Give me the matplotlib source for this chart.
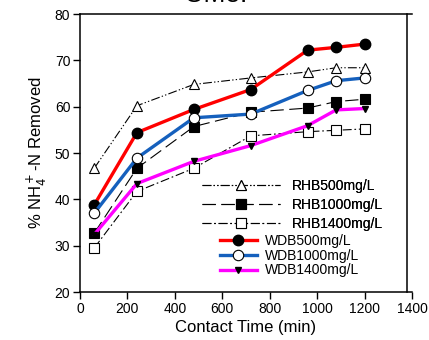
import matplotlib
matplotlib.use("Agg")
import matplotlib.pyplot as plt
from matplotlib.lines import Line2D

plt.rcParams['font.family'] = ['Liberation Sans', 'DejaVu Sans']

time_min = [60, 240, 480, 720, 960, 1080, 1200]

rhb500 = [46.7, 60.2, 64.8, 66.2, 67.5, 68.4, 68.4]
rhb1000 = [32.7, 46.7, 55.7, 58.8, 59.7, 61.1, 61.6]
rhb1400 = [29.5, 41.7, 46.7, 53.7, 54.6, 54.9, 55.2]
wdb500 = [38.8, 54.4, 59.4, 63.7, 72.2, 72.8, 73.5]
wdb1000 = [37.0, 48.9, 57.6, 58.4, 63.5, 65.6, 66.2]
wdb1400 = [32.4, 43.4, 48.2, 51.6, 55.9, 59.3, 59.6]

x_ticks = [0, 200, 400, 600, 800, 1000, 1200, 1400]
y_ticks = [20, 30, 40, 50, 60, 70, 80]

W, H = 429, 340
fig = plt.figure(figsize=(W / 100, H / 100), dpi=100)
ax = fig.add_axes([80 / W, 48 / H, 332 / W, 278 / H])

# RHB series (thin black)
l1, = ax.plot(time_min, rhb500, color='black', lw=0.8, dashes=[8, 2, 1.2, 2, 1.2, 2],
              marker='^', ms=7.5, mfc='white', mec='black', mew=0.8, zorder=3)
l2, = ax.plot(time_min, rhb1000, color='black', lw=0.8, dashes=[12, 5],
              marker='s', ms=7, mfc='black', mec='black', mew=0.8, zorder=3)
l3, = ax.plot(time_min, rhb1400, color='black', lw=0.8, dashes=[8, 2.5, 1.5, 2.5],
              marker='s', ms=7, mfc='white', mec='black', mew=0.8, zorder=3)

# WDB series (thick colored)
l4, = ax.plot(time_min, wdb500, color='#ff0000', lw=2.4,
              marker='o', ms=7.5, mfc='black', mec='black', zorder=4)
l5, = ax.plot(time_min, wdb1000, color='#1560bd', lw=2.4,
              marker='o', ms=7.5, mfc='white', mec='black', mew=0.8, zorder=4)
l6, = ax.plot(time_min, wdb1400, color='#ff00ff', lw=2.4,
              marker='v', ms=4.5, mfc='black', mec='black', zorder=4)

ax.set_xlim(0, 1400)
ax.set_ylim(20, 80)
ax.set_xticks(x_ticks)
ax.set_yticks(y_ticks)
ax.tick_params(direction='out', length=5, width=1, labelsize=10, pad=2,
               top=False, right=False)
for s in ['left', 'bottom', 'top']:
    ax.spines[s].set_linewidth(1.1)
ax.spines['right'].set_visible(False)
# right frame line sits slightly inside the x-range end
xr = (407 - 80) / 332
ax.add_line(Line2D([xr, xr], [0, 1], transform=ax.transAxes, color='black',
                   lw=1.1, clip_on=False))

ax.set_xlabel('Contact Time (min)', fontsize=12, labelpad=3)
ax.set_ylabel('% NH$_4^+$-N Removed', fontsize=12, labelpad=4)

leg1 = fig.legend([l1, l2, l3], ['RHB500mg/L', 'RHB1000mg/L', 'RHB1400mg/L'],
                  loc='upper left', bbox_to_anchor=(202 / W, 1 - 179 / H),
                  frameon=False, fontsize=10, handlelength=5.6, handletextpad=0.9,
                  labelspacing=0.35, borderpad=0, borderaxespad=0)
leg2 = fig.legend([l4, l5, l6], ['WDB500mg/L', 'WDB1000mg/L', 'WDB1400mg/L'],
                  loc='upper left', bbox_to_anchor=(220 / W, 1 - 234 / H),
                  frameon=False, fontsize=10, handlelength=2.65, handletextpad=0.6,
                  labelspacing=0.05, borderpad=0, borderaxespad=0)
fig.add_artist(leg1)

# title partly cut off at the top edge, as in the reference
fig.text(216 / W, 1 - 2 / H, 'OMe.', fontsize=19, ha='center', va='baseline')

fig.savefig('out.png', dpi=100)
